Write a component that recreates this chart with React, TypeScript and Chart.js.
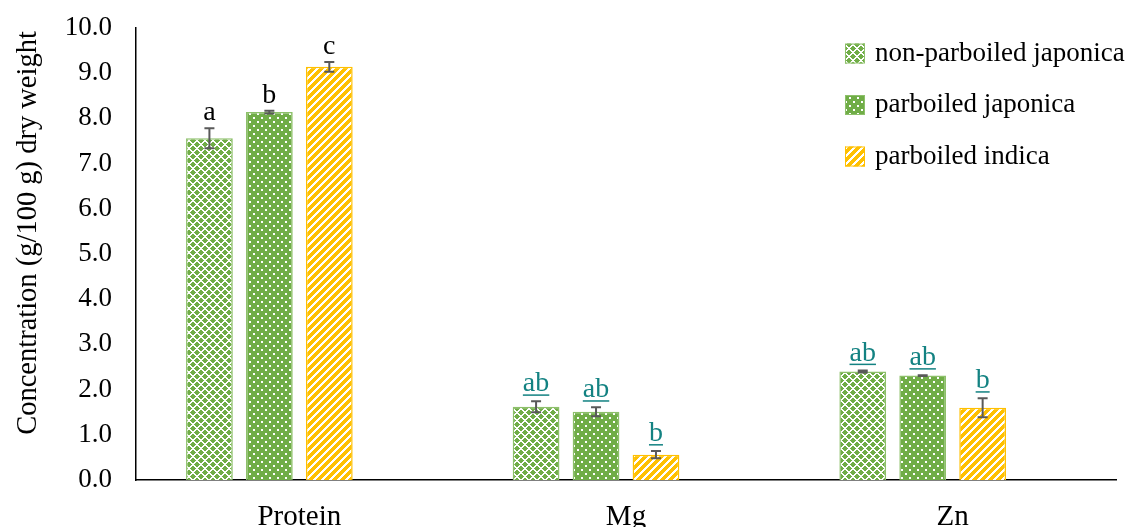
import React, { useEffect, useRef } from "react";
import { Chart, registerables } from "chart.js";

Chart.register(...registerables);

const categories = ["Protein", "Mg", "Zn"];
const seriesNames = ["non-parboiled japonica", "parboiled japonica", "parboiled indica"];
const nonParbJaponica = [7.56, 1.62, 2.4];
const parbJaponica = [8.14, 1.51, 2.31];
const parbIndica = [9.14, 0.56, 1.6];
const errNonParbJaponica = [0.22, 0.12, 0.02];
const errParbJaponica = [0.03, 0.1, 0.01];
const errParbIndica = [0.11, 0.08, 0.21];
const lettersNonParbJaponica = ["a", "ab", "ab"];
const lettersParbJaponica = ["b", "ab", "ab"];
const lettersParbIndica = ["c", "b", "b"];
const underlinedLetters = [false, true, true];
const yMin = 0;
const yMax = 10;
const yStep = 1;

const FONT = '"Liberation Serif", "Times New Roman", serif';
const GREEN = "#70AD47";
const YELLOW = "#FFC000";
const TEAL = "#138282";

function makePattern(kind: string): CanvasPattern | string {
  const c = document.createElement("canvas");
  const size = 8;
  c.width = size;
  c.height = size;
  const g = c.getContext("2d");
  if (!g) return GREEN;
  if (kind === "checker") {
    g.fillStyle = GREEN;
    g.fillRect(0, 0, size, size);
    g.fillStyle = "#ffffff";
    for (let y = 0; y < size; y++) {
      for (let x = 0; x < size; x++) {
        const a = (x + y) % 8;
        const b = (x - y + 16) % 8;
        if (a < 2 || b < 2) g.fillRect(x, y, 1, 1);
      }
    }
  } else if (kind === "dots") {
    g.fillStyle = GREEN;
    g.fillRect(0, 0, size, size);
    g.fillStyle = "#ffffff";
    g.fillRect(1, 1, 2, 2);
    g.fillRect(5, 5, 2, 2);
  } else {
    g.fillStyle = YELLOW;
    g.fillRect(0, 0, size, size);
    g.fillStyle = "#ffffff";
    for (let y = 0; y < size; y++) {
      for (let x = 0; x < size; x++) {
        if ((x + y) % 8 < 3) g.fillRect(x, y, 1, 1);
      }
    }
  }
  const ctx = document.createElement("canvas").getContext("2d");
  const p = ctx ? ctx.createPattern(c, "repeat") : null;
  return p || GREEN;
}

export default function App() {
  const ref = useRef<HTMLCanvasElement | null>(null);

  useEffect(() => {
    const canvas = ref.current;
    if (!canvas) return;
    const patterns = [makePattern("checker"), makePattern("dots"), makePattern("stripes")];
    const borders = ["#8DC06A", "#8DC06A", "#FFC000"];
    const values = [nonParbJaponica, parbJaponica, parbIndica];
    const errors = [errNonParbJaponica, errParbJaponica, errParbIndica];
    const letters = [lettersNonParbJaponica, lettersParbJaponica, lettersParbIndica];

    const overlay = {
      id: "overlay",
      afterDatasetsDraw(chart: any) {
        const ctx = chart.ctx as CanvasRenderingContext2D;
        const y = chart.scales.y;
        ctx.save();
        for (let d = 0; d < 3; d++) {
          const meta = chart.getDatasetMeta(d);
          meta.data.forEach((bar: any, i: number) => {
            const v = values[d][i];
            const e = errors[d][i];
            const x = bar.x;
            const yTop = y.getPixelForValue(v + e);
            const yBot = y.getPixelForValue(v - e);
            ctx.strokeStyle = "#595959";
            ctx.lineWidth = 2;
            ctx.beginPath();
            ctx.moveTo(x, yTop);
            ctx.lineTo(x, yBot);
            ctx.moveTo(x - 5, yTop);
            ctx.lineTo(x + 5, yTop);
            ctx.moveTo(x - 5, yBot);
            ctx.lineTo(x + 5, yBot);
            ctx.stroke();

            const t = letters[d][i];
            ctx.font = `28px ${FONT}`;
            ctx.textAlign = "center";
            ctx.textBaseline = "alphabetic";
            if (underlinedLetters[i]) {
              const base = yTop - 10;
              ctx.fillStyle = TEAL;
              ctx.fillText(t, x, base);
              const w = ctx.measureText(t).width;
              ctx.fillRect(x - w / 2, base + 3, w, 1.5);
            } else {
              ctx.fillStyle = "#000";
              ctx.fillText(t, x, yTop - 8);
            }
          });
        }
        // legend
        const centers = [53.5, 105, 156.5];
        for (let d = 0; d < 3; d++) {
          const cy = centers[d];
          ctx.fillStyle = patterns[d] as any;
          ctx.fillRect(845, cy - 10, 20, 20);
          ctx.strokeStyle = borders[d];
          ctx.lineWidth = 1;
          ctx.strokeRect(845.5, cy - 9.5, 19, 19);
          ctx.fillStyle = "#000";
          ctx.font = `27px ${FONT}`;
          ctx.textAlign = "left";
          ctx.textBaseline = "middle";
          ctx.fillText(seriesNames[d], 875, cy);
        }
        // y title
        ctx.translate(29, 233);
        ctx.rotate(-Math.PI / 2);
        ctx.fillStyle = "#000";
        ctx.font = `28.5px ${FONT}`;
        ctx.textAlign = "center";
        ctx.textBaseline = "middle";
        ctx.fillText("Concentration (g/100 g) dry weight", 0, 0);
        ctx.restore();
      },
    };

    const chart = new Chart(canvas, {
      type: "bar",
      data: {
        labels: categories,
        datasets: [
          ...values.map((vals, d) => ({
            label: seriesNames[d],
            data: vals,
            backgroundColor: patterns[d] as any,
            borderColor: borders[d],
            borderWidth: 1.5,
            barPercentage: 0.78,
            categoryPercentage: 0.734,
          })),
          {
            label: "",
            data: categories.map(() => null),
            backgroundColor: "rgba(0,0,0,0)",
            barPercentage: 0.78,
            categoryPercentage: 0.734,
          },
        ],
      },
      options: {
        responsive: false,
        animation: false,
        devicePixelRatio: 1,
        layout: { padding: { top: 28, right: 10, left: 0, bottom: 0 } },
        plugins: { legend: { display: false }, tooltip: { enabled: false } },
        scales: {
          x: {
            grid: { display: false, drawTicks: false },
            border: { display: true, color: "#000", width: 1.5 },
            ticks: { color: "#000", font: { family: FONT, size: 29 }, padding: 20 },
            afterFit: (s: any) => {
              s.height = 47;
              s.paddingLeft = 0;
              s.paddingRight = 0;
            },
          },
          y: {
            min: yMin,
            max: yMax,
            grid: { display: false, drawTicks: false },
            border: { display: true, color: "#000", width: 1.5 },
            ticks: {
              stepSize: yStep,
              color: "#000",
              font: { family: FONT, size: 27 },
              padding: 24,
              callback: (v: any) => Number(v).toFixed(1),
            },
            afterFit: (s: any) => {
              s.width = 136;
              s.paddingTop = 0;
              s.paddingBottom = 0;
            },
          },
        },
      },
      plugins: [overlay],
    } as any);
    return () => chart.destroy();
  }, []);

  return (
    <div style={{ position: "fixed", left: 0, top: 0, width: 1126, height: 527, background: "#fff" }}>
      <canvas ref={ref} width={1126} height={527} style={{ display: "block", width: 1126, height: 527 }} />
    </div>
  );
}
